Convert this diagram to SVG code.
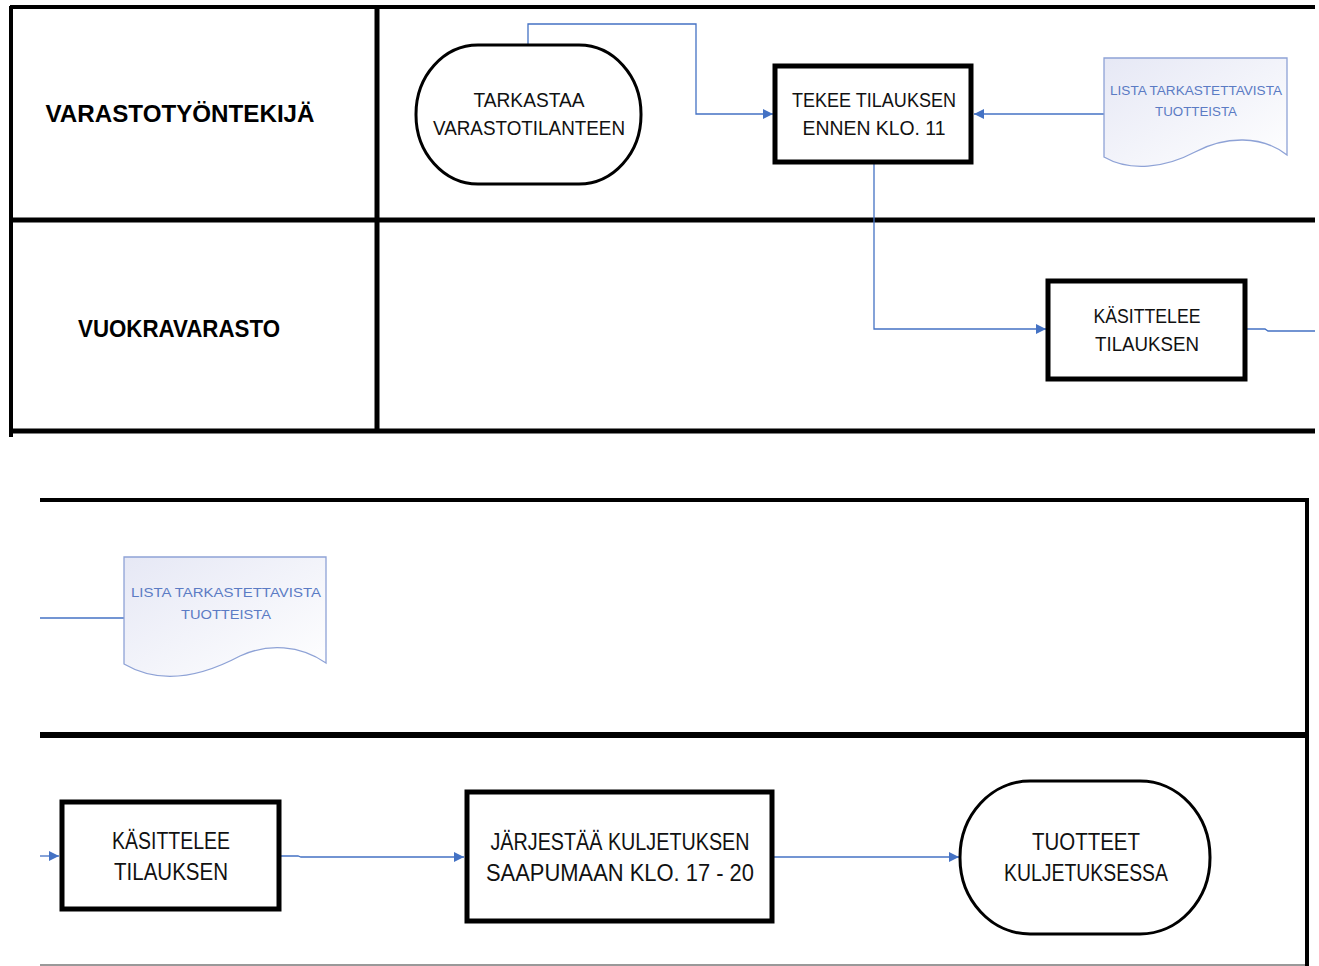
<svg xmlns="http://www.w3.org/2000/svg" width="1319" height="966" viewBox="0 0 1319 966">
<defs>
<marker id="arr" viewBox="0 0 10 10" refX="10" refY="5" markerWidth="10" markerHeight="10" markerUnits="userSpaceOnUse" orient="auto">
<path d="M0,0 L10,5 L0,10 Z" fill="#4472C4"/>
</marker>
<linearGradient id="docg" x1="0" y1="0" x2="1" y2="1">
<stop offset="0" stop-color="#E6E8F5"/>
<stop offset="1" stop-color="#FFFFFF"/>
</linearGradient>
<style>
.lane{stroke:#000;fill:none}
.box{fill:#fff;stroke:#000;stroke-width:5}
.term{fill:#fff;stroke:#000;stroke-width:3}
.doc{fill:url(#docg);stroke:#8EA2D6;stroke-width:1.3}
.conn{fill:none;stroke:#4472C4;stroke-width:1.3}
.t{font-family:"Liberation Sans",Arial,sans-serif;fill:#111;text-anchor:middle}
.lbl{font-family:"Liberation Sans",Arial,sans-serif;font-weight:bold;fill:#000;text-anchor:middle;font-size:23px}
.dt{font-family:"Liberation Sans",Arial,sans-serif;fill:#5B7BC4;text-anchor:middle;font-size:12.5px}
</style>
</defs>
<rect width="1319" height="966" fill="#fff"/>
<g id="lanes">
<line class="lane" x1="10" y1="7" x2="1315" y2="7" stroke-width="4"/>
<line class="lane" x1="11" y1="6" x2="11" y2="437" stroke-width="4"/>
<line class="lane" x1="377" y1="7" x2="377" y2="431" stroke-width="5"/>
<line class="lane" x1="10" y1="220" x2="1315" y2="220" stroke-width="5"/>
<line class="lane" x1="10" y1="431" x2="1315" y2="431" stroke-width="5"/>
<line class="lane" x1="40" y1="500" x2="1309" y2="500" stroke-width="4"/>
<line class="lane" x1="1307" y1="498" x2="1307" y2="966" stroke-width="4"/>
<line class="lane" x1="40" y1="735" x2="1309" y2="735" stroke-width="6"/>
<line x1="40" y1="965" x2="1305" y2="965" stroke="#777" stroke-width="1.5"/>
<text class="lbl" x="180" y="122" textLength="269" lengthAdjust="spacingAndGlyphs">VARASTOTYÖNTEKIJÄ</text>
<text class="lbl" x="179" y="337" textLength="202" lengthAdjust="spacingAndGlyphs">VUOKRAVARASTO</text>
</g>
<g id="connectors">
<path class="conn" d="M528,45 V24 H696 V114 H773" marker-end="url(#arr)"/>
<path class="conn" d="M1104,114 H974" marker-end="url(#arr)"/>
<path class="conn" d="M874,164 V329 H1046" marker-end="url(#arr)"/>
<path class="conn" d="M1246,329 H1265 L1268,331 H1315"/>
<path class="conn" d="M40,618 H124"/>
<path class="conn" d="M40,856 H59" marker-end="url(#arr)"/>
<path class="conn" d="M281,856 H298 L301,857 H464" marker-end="url(#arr)"/>
<path class="conn" d="M774,857 H959" marker-end="url(#arr)"/>
</g>
<g id="n1">
<rect class="term" x="416" y="45" width="225" height="139" rx="62" ry="69"/>
<text class="t" x="529" y="107" font-size="20" textLength="111" lengthAdjust="spacingAndGlyphs">TARKASTAA</text>
<text class="t" x="529" y="135" font-size="20" textLength="192" lengthAdjust="spacingAndGlyphs">VARASTOTILANTEEN</text>
</g>
<g id="n2">
<rect class="box" x="775" y="66" width="196" height="96"/>
<text class="t" x="874" y="107" font-size="20" textLength="164" lengthAdjust="spacingAndGlyphs">TEKEE TILAUKSEN</text>
<text class="t" x="874" y="135" font-size="20" textLength="143" lengthAdjust="spacingAndGlyphs">ENNEN KLO. 11</text>
</g>
<g id="n3">
<path class="doc" d="M1104,58 H1287 V155 C1262,135 1225,136 1195,152 C1165,168 1130,172 1104,157 Z"/>
<text class="dt" x="1196" y="95" textLength="172" lengthAdjust="spacingAndGlyphs">LISTA TARKASTETTAVISTA</text>
<text class="dt" x="1196" y="116" textLength="82" lengthAdjust="spacingAndGlyphs">TUOTTEISTA</text>
</g>
<g id="n4">
<rect class="box" x="1048" y="281" width="197" height="98"/>
<text class="t" x="1147" y="323" font-size="20" textLength="107" lengthAdjust="spacingAndGlyphs">KÄSITTELEE</text>
<text class="t" x="1147" y="351" font-size="20" textLength="104" lengthAdjust="spacingAndGlyphs">TILAUKSEN</text>
</g>
<g id="n5">
<path class="doc" d="M124,557 H326 V663 C300,645 268,643 240,656 C210,672 165,688 124,664 Z"/>
<text class="dt" x="226" y="597" textLength="190" lengthAdjust="spacingAndGlyphs">LISTA TARKASTETTAVISTA</text>
<text class="dt" x="226" y="619" textLength="90" lengthAdjust="spacingAndGlyphs">TUOTTEISTA</text>
</g>
<g id="n6">
<rect class="box" x="62" y="802" width="217" height="107"/>
<text class="t" x="171" y="849" font-size="23" textLength="118" lengthAdjust="spacingAndGlyphs">KÄSITTELEE</text>
<text class="t" x="171" y="880" font-size="23" textLength="114" lengthAdjust="spacingAndGlyphs">TILAUKSEN</text>
</g>
<g id="n7">
<rect class="box" x="467" y="792" width="305" height="129"/>
<text class="t" x="620" y="850" font-size="23" textLength="259" lengthAdjust="spacingAndGlyphs">JÄRJESTÄÄ KULJETUKSEN</text>
<text class="t" x="620" y="881" font-size="23" textLength="268" lengthAdjust="spacingAndGlyphs">SAAPUMAAN KLO. 17 - 20</text>
</g>
<g id="n8">
<rect class="term" x="960" y="781" width="250" height="153" rx="70" ry="76"/>
<text class="t" x="1086" y="850" font-size="23" textLength="108" lengthAdjust="spacingAndGlyphs">TUOTTEET</text>
<text class="t" x="1086" y="881" font-size="23" textLength="164" lengthAdjust="spacingAndGlyphs">KULJETUKSESSA</text>
</g>
</svg>
